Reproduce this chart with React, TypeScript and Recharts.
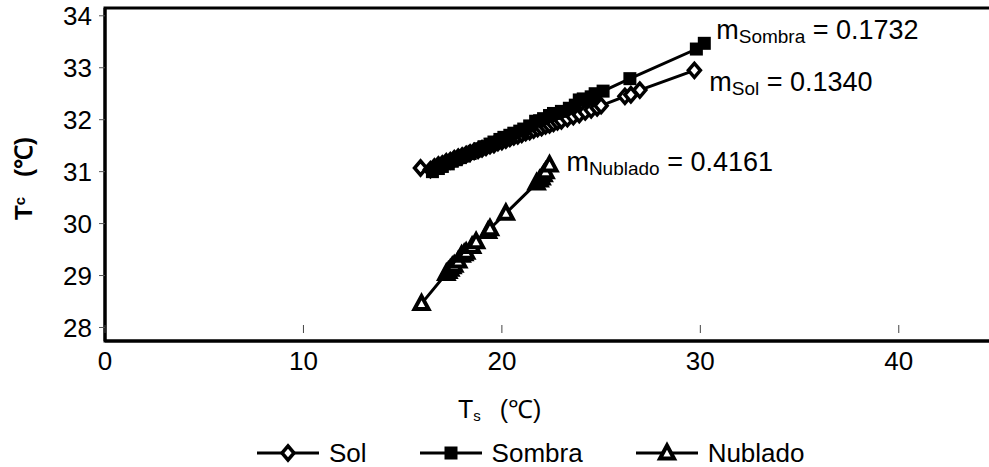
import React from 'react';
import { ComposedChart, Scatter, XAxis, YAxis, ReferenceArea, ReferenceDot, Legend } from 'recharts';

const solX = [15.9, 16.4, 16.6, 16.8, 17.0, 17.2, 17.4, 17.6, 17.8, 18.0, 18.2, 18.4, 18.6, 18.8, 19.0, 19.2, 19.4, 19.6, 19.8, 20.0, 20.2, 20.4, 20.6, 20.8, 21.0, 21.2, 21.4, 21.6, 21.8, 22.0, 22.2, 22.4, 22.6, 22.8, 23.0, 23.3, 23.6, 23.9, 24.2, 24.5, 24.8, 25.0, 26.2, 26.5, 26.95, 29.7];
const solY = [31.07, 31.04, 31.09, 31.13, 31.15, 31.19, 31.21, 31.25, 31.28, 31.3, 31.33, 31.36, 31.39, 31.41, 31.44, 31.47, 31.5, 31.52, 31.56, 31.58, 31.61, 31.64, 31.67, 31.69, 31.72, 31.75, 31.77, 31.8, 31.83, 31.85, 31.88, 31.9, 31.93, 31.96, 31.98, 32.02, 32.06, 32.1, 32.15, 32.19, 32.23, 32.27, 32.45, 32.48, 32.57, 32.95];

const sombraX = [16.5, 16.8, 17.0, 17.3, 17.5, 17.7, 17.9, 18.1, 18.4, 18.6, 18.9, 19.1, 19.4, 19.6, 19.9, 20.1, 20.4, 20.6, 20.9, 21.1, 21.4, 21.7, 21.9, 22.1, 22.4, 22.6, 23.0, 23.4, 23.7, 23.9, 24.1, 24.5, 24.7, 25.1, 26.45, 29.8, 30.2];
const sombraY = [31.0, 31.06, 31.1, 31.15, 31.2, 31.23, 31.27, 31.3, 31.35, 31.39, 31.44, 31.48, 31.53, 31.57, 31.62, 31.66, 31.7, 31.74, 31.78, 31.82, 31.88, 31.97, 31.98, 32.02, 32.08, 32.12, 32.16, 32.22, 32.28, 32.38, 32.4, 32.44, 32.5, 32.55, 32.79, 33.36, 33.47];

const nubladoX = [15.95, 17.2, 17.3, 17.4, 17.5, 17.6, 17.8, 17.97, 18.1, 18.2, 18.5, 18.7, 19.3, 19.4, 20.2, 21.75, 21.9, 22.0, 22.1, 22.2, 22.4];
const nubladoY = [28.46, 29.04, 29.08, 29.12, 29.17, 29.2, 29.28, 29.39, 29.42, 29.45, 29.56, 29.65, 29.85, 29.9, 30.2, 30.78, 30.84, 30.88, 30.94, 31.0, 31.13];

const seriesNames = ['Sol', 'Sombra', 'Nublado'];
const slopeNames = ['Sombra', 'Sol', 'Nublado'];
const slopeValues = ['0.1732', '0.1340', '0.4161'];
const slopeAnchorX = [30.8, 30.45, 23.25];
const slopeAnchorY = [33.557, 32.547, 31.007];

const xTicks = [0, 10, 20, 30, 40];
const yTicks = [28, 29, 30, 31, 32, 33, 34];
const xDomain = [0, 45];
const yDomain = [27.74, 34.15];

const FONT = '"Liberation Sans", Arial, Helvetica, sans-serif';

const toPoints = (xs: number[], ys: number[]) => xs.map((x, i) => ({ x, y: ys[i] }));
const solData = toPoints(solX, solY);
const sombraData = toPoints(sombraX, sombraY);
const nubladoData = toPoints(nubladoX, nubladoY);

const Diamond = ({ cx, cy }: any) => (
  <path d={`M${cx},${cy - 7} L${cx + 6},${cy} L${cx},${cy + 7} L${cx - 6},${cy} Z`} fill="#fff" stroke="#000" strokeWidth={3.5} />
);
const Square = ({ cx, cy }: any) => (
  <rect x={cx - 6.5} y={cy - 6.5} width={13} height={13} fill="#000" />
);
const Triangle = ({ cx, cy }: any) => (
  <path d={`M${cx},${cy - 7.5} L${cx + 7},${cy + 5.5} L${cx - 7},${cy + 5.5} Z`} fill="#fff" stroke="#000" strokeWidth={4} strokeLinejoin="miter" />
);
const markers = [Diamond, Square, Triangle];

const XTick = (props: any) => {
  const { x, y, payload } = props;
  return (
    <g>
      <line x1={x} x2={x} y1={y - 16} y2={y - 8} stroke="#444" strokeWidth={1} />
      <text x={x} y={y + 29} textAnchor="middle" fontSize={26} fill="#000" fontFamily={FONT}>
        {payload.value}
      </text>
    </g>
  );
};

const SlopeLabel = ({ cx, cy, name, value }: any) => (
  <text x={cx} y={cy} fontSize={27} fill="#000" fontFamily={FONT}>
    m
    <tspan dy={4} fontSize={19}>{name}</tspan>
    <tspan dy={-4}>{` = ${value}`}</tspan>
  </text>
);

const YLabel = (props: any) => {
  const vb = props.viewBox || { x: 0, y: 8, width: 105, height: 333 };
  const bx = vb.x + 32;
  const by = vb.y + 212;
  return (
    <text x={bx} y={by} transform={`rotate(-90, ${bx}, ${by})`} fontSize={24} fontWeight="bold" fill="#000" fontFamily={FONT}>
      T
      <tspan dy={-7} fontSize={15}>c</tspan>
      <tspan dy={7} dx={20}>(℃)</tspan>
    </text>
  );
};

const XLabel = (props: any) => {
  const vb = props.viewBox || { x: 105, y: 341 };
  const bx = 458;
  const by = vb.y + 77;
  return (
    <text x={bx} y={by} fontSize={25} fill="#000" fontFamily={FONT}>
      T
      <tspan dy={3} fontSize={15}>s</tspan>
      <tspan dy={-3} dx={19}>(℃)</tspan>
    </text>
  );
};

const LegendContent = () => (
  <div style={{ height: 28, display: 'flex', alignItems: 'center', paddingLeft: 257, fontFamily: FONT, fontSize: 26, color: '#000' }}>
    {seriesNames.map((name, i) => {
      const M = markers[i];
      return (
        <div key={name} style={{ display: 'flex', alignItems: 'center', marginRight: 53 }}>
          <svg width={62} height={24} style={{ display: 'block' }}>
            <line x1={0} x2={62} y1={12} y2={12} stroke="#000" strokeWidth={3} />
            <M cx={31} cy={12} />
          </svg>
          <span style={{ marginLeft: 10, lineHeight: '28px' }}>{name}</span>
        </div>
      );
    })}
  </div>
);

export default function App() {
  return (
    <div style={{ position: 'fixed', left: 0, top: 0, width: 989, height: 467, overflow: 'hidden', background: '#fff' }}>
      <ComposedChart width={1000} height={467} margin={{ top: 8, right: 2, left: 0, bottom: 0 }}>
        <XAxis
          type="number"
          dataKey="x"
          domain={xDomain}
          ticks={xTicks}
          allowDataOverflow
          axisLine={{ stroke: '#000', strokeWidth: 3 }}
          tickLine={false}
          tickSize={0}
          tickMargin={0}
          tick={<XTick />}
          height={98}
          label={<XLabel />}
        />
        <YAxis
          type="number"
          dataKey="y"
          domain={yDomain}
          ticks={yTicks}
          allowDataOverflow
          width={105}
          axisLine={{ stroke: '#000', strokeWidth: 3 }}
          tickLine={{ stroke: '#555', strokeWidth: 1 }}
          tickSize={6}
          tickMargin={7}
          tick={{ fontSize: 26, fill: '#000', fontFamily: FONT }}
          label={<YLabel />}
        />
        <ReferenceArea x1={xDomain[0]} x2={xDomain[1]} y1={yDomain[0]} y2={yDomain[1]} fill="none" stroke="#000" strokeWidth={3} ifOverflow="visible" />
        <Scatter name="Sol" data={solData} line={{ stroke: '#000', strokeWidth: 3 }} lineType="joint" shape={<Diamond />} isAnimationActive={false} />
        <Scatter name="Sombra" data={sombraData} line={{ stroke: '#000', strokeWidth: 3 }} lineType="joint" shape={<Square />} isAnimationActive={false} />
        <Scatter name="Nublado" data={nubladoData} line={{ stroke: '#000', strokeWidth: 3 }} lineType="joint" shape={<Triangle />} isAnimationActive={false} />
        {slopeNames.map((n, i) => (
          <ReferenceDot
            key={n}
            x={slopeAnchorX[i]}
            y={slopeAnchorY[i]}
            r={0}
            ifOverflow="visible"
            shape={(p: any) => <SlopeLabel cx={p.cx} cy={p.cy} name={n} value={slopeValues[i]} />}
          />
        ))}
        <Legend verticalAlign="bottom" content={<LegendContent />} wrapperStyle={{ left: 0, width: 1000 }} />
      </ComposedChart>
    </div>
  );
}
